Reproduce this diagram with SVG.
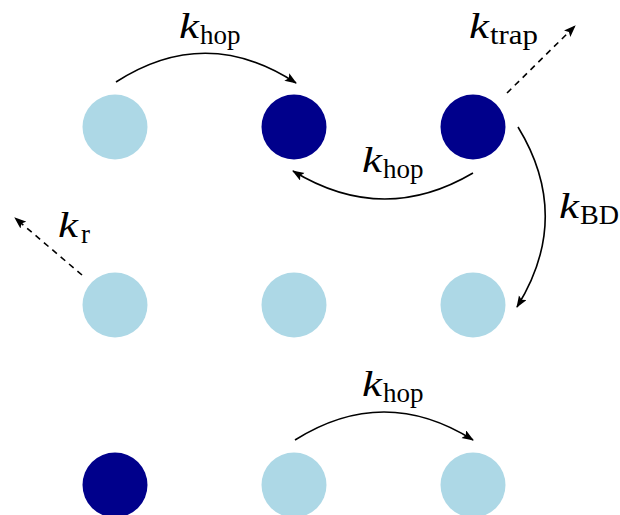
<svg xmlns="http://www.w3.org/2000/svg" width="620" height="515" viewBox="0 0 620 515">
<defs>
<marker id="ah" markerWidth="12" markerHeight="10" refX="11" refY="4.5" orient="auto" markerUnits="userSpaceOnUse">
<path d="M0,0 L12,4.5 L0,9 L2.5,4.5 z" fill="#000"/>
</marker>
</defs>
<style>
.light{fill:#ADD8E6}
.dark{fill:#00008B}
.arc{fill:none;stroke:#000;stroke-width:1.6;marker-end:url(#ah)}
.dash{fill:none;stroke:#000;stroke-width:1.6;stroke-dasharray:6,5;marker-end:url(#ah)}
</style>
<rect width="620" height="515" fill="#fff"/>
<g id="n11"><circle class="light" cx="115" cy="127" r="32.5"/></g>
<g id="n12"><circle class="dark" cx="294" cy="127" r="32.5"/></g>
<g id="n13"><circle class="dark" cx="473" cy="127" r="32.5"/></g>
<g id="n21"><circle class="light" cx="115" cy="305" r="32.5"/></g>
<g id="n22"><circle class="light" cx="294" cy="305" r="32.5"/></g>
<g id="n23"><circle class="light" cx="473" cy="305" r="32.5"/></g>
<g id="n31"><circle class="dark" cx="115" cy="485" r="32.5"/></g>
<g id="n32"><circle class="light" cx="294" cy="485" r="32.5"/></g>
<g id="n33"><circle class="light" cx="473" cy="485" r="32.5"/></g>
<g id="connectors">
<path class="arc" d="M116,82 Q206,24 296,83"/>
<path class="arc" d="M473,173 Q383,226 293,171"/>
<path class="arc" d="M518,127 Q573,217 517,307"/>
<path class="arc" d="M295,440 Q384,384 473,440"/>
<path class="dash" d="M507,93 L575,26"/>
<path class="dash" d="M82,275 L15,218"/>
</g>
<g id="labels" font-family="Liberation Serif, DejaVu Serif, serif" fill="#000">
<text x="179" y="38" font-size="35" font-style="italic" textLength="20" lengthAdjust="spacingAndGlyphs">k</text><text x="200" y="44" font-size="27">hop</text>
<text x="362" y="172" font-size="35" font-style="italic" textLength="20" lengthAdjust="spacingAndGlyphs">k</text><text x="383" y="178" font-size="27">hop</text>
<text x="362" y="396" font-size="35" font-style="italic" textLength="20" lengthAdjust="spacingAndGlyphs">k</text><text x="383" y="402" font-size="27">hop</text>
<text x="469" y="38" font-size="35" font-style="italic" textLength="20" lengthAdjust="spacingAndGlyphs">k</text><text x="490" y="44" font-size="27" textLength="48" lengthAdjust="spacingAndGlyphs">trap</text>
<text x="559" y="218" font-size="35" font-style="italic" textLength="20" lengthAdjust="spacingAndGlyphs">k</text><text x="580" y="224" font-size="27" textLength="39" lengthAdjust="spacingAndGlyphs">BD</text>
<text x="58" y="237" font-size="35" font-style="italic" textLength="20" lengthAdjust="spacingAndGlyphs">k</text><text x="81" y="243" font-size="27">r</text>
</g>
</svg>
